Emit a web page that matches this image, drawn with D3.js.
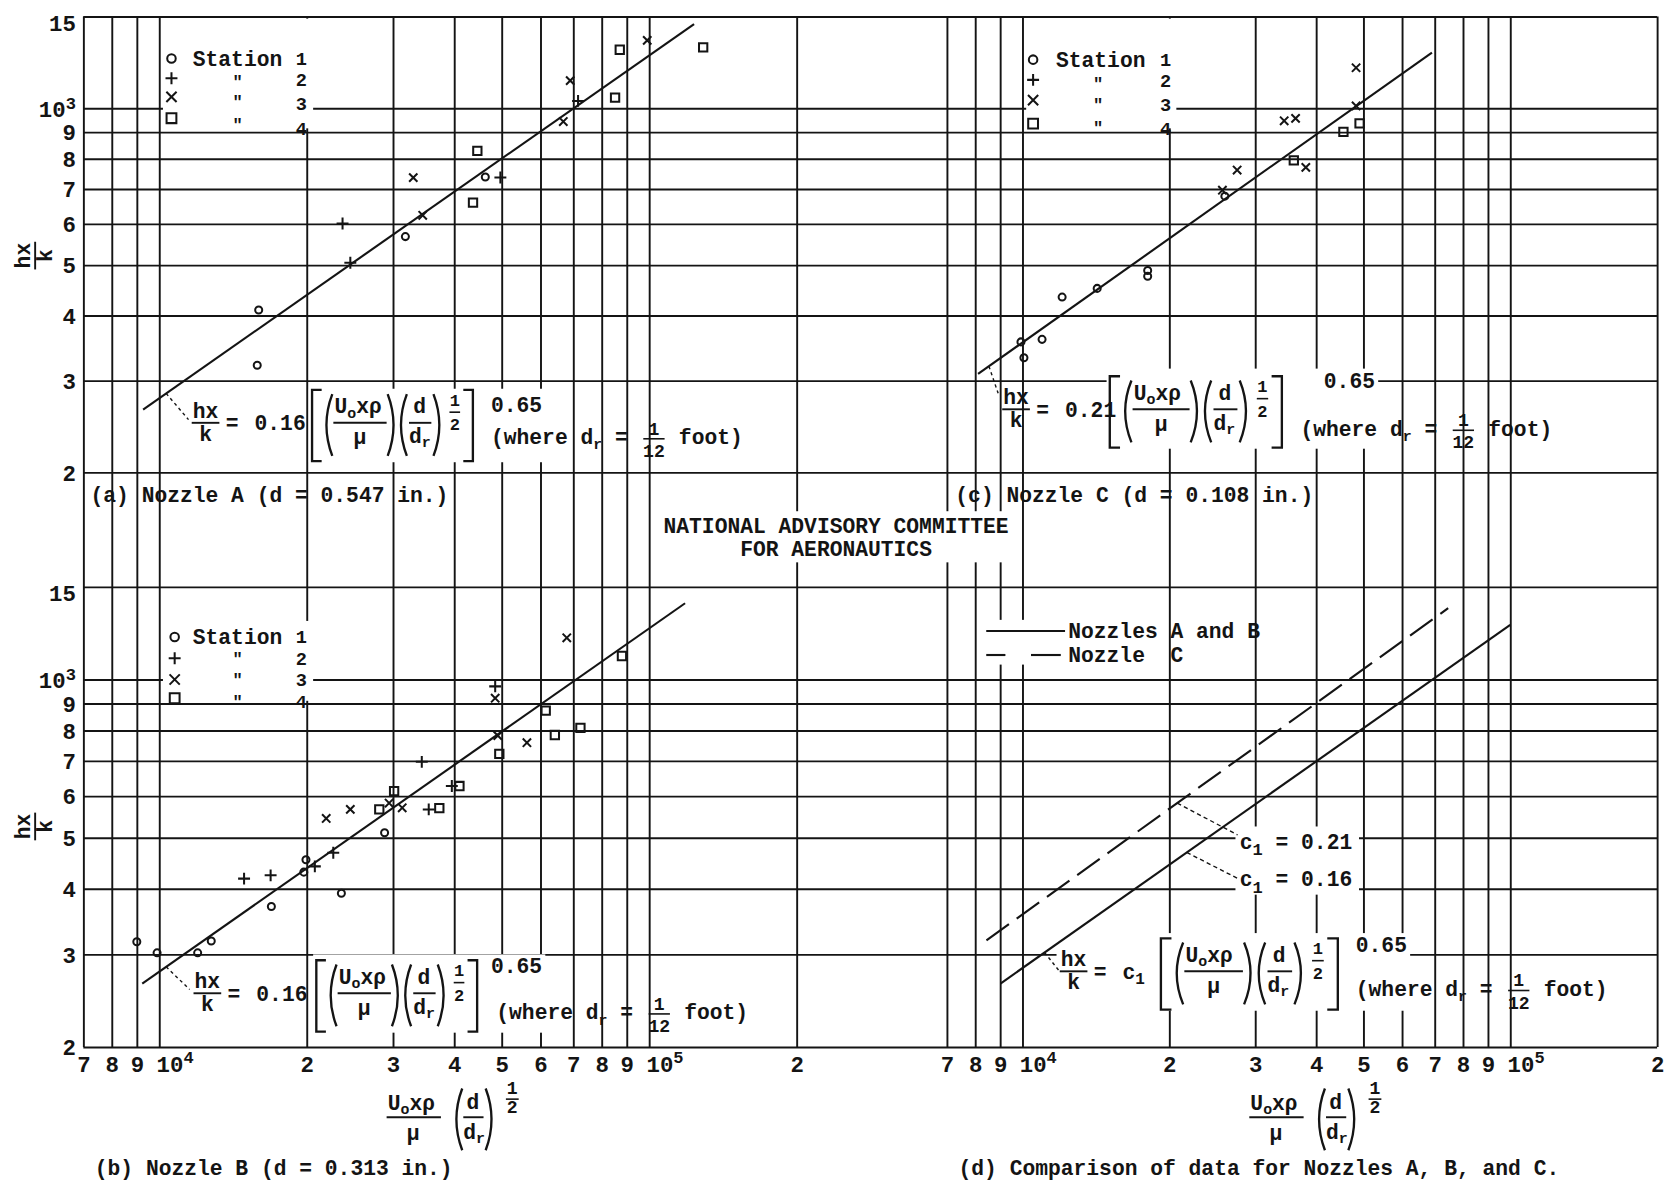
<!DOCTYPE html>
<html><head><meta charset="utf-8">
<script src="https://cdn.jsdelivr.net/npm/d3@7"></script>
<style>
html,body{margin:0;padding:0;background:#fff;}
svg{display:block;background:#fff;}
text{font-family:"Liberation Mono","DejaVu Sans Mono",monospace;font-weight:bold;fill:#141414;white-space:pre;}
</style></head><body>
<svg id="chart" width="1670" height="1188" viewBox="0 0 1670 1188"></svg>
<script>
// ---------------- tick values / labels ----------------
const xTickValues = [7000, 8000, 9000, 10000, 20000, 30000, 40000, 50000, 60000, 70000, 80000, 90000, 100000, 200000];
const xTickLabels = ['7','8','9','10^4','2','3','4','5','6','7','8','9','10^5','2'];
const yTickValues = [200, 300, 400, 500, 600, 700, 800, 900, 1000, 1500];
const yTickLabels = ['2','3','4','5','6','7','8','9','10^3','15'];

// ---------------- (a) Nozzle A ----------------
const nozzleA_station1 = [[15960,410],[15850,321],[31800,567],[46300,738]];
const nozzleA_station2 = [[23670,601],[24550,505],[49700,736],[71600,1033]];
const nozzleA_station3 = [[33000,736],[34500,623],[66800,943],[69000,1130],[99100,1350]];
const nozzleA_station4 = [[43700,659],[44600,828],[85200,1048],[87100,1295],[128900,1309]];
const nozzleA_fit = [[9270,264],[123500,1451]];

// ---------------- (b) Nozzle B ----------------
const nozzleB_station1 = [[9000,317],[9900,302],[11980,302],[12770,318],[16940,370],[19730,430],[19930,454],[23540,392],[28840,511]];
const nozzleB_station2 = [[14900,418],[16880,424],[20780,441],[22660,468],[34350,697],[35490,566],[39560,627],[48500,970]];
const nozzleB_station3 = [[21920,544],[24550,566],[29460,582],[31330,570],[48500,921],[49100,782],[56300,758],[67900,1200]];
const nozzleB_station4 = [[28130,566],[30160,613],[37300,569],[41000,627],[49450,722],[61500,872],[64200,784],[72400,809],[88000,1108]];
const nozzleB_fit = [[9233,264],[118400,1396]];

// ---------------- (c) Nozzle C ----------------
const nozzleC_station1 = [[9930,356],[10070,332],[10970,360],[12060,434],[14230,451],[18060,488],[18060,476],[26000,678]];
const nozzleC_station2 = [];
const nozzleC_station3 = [[25700,696],[27550,761],[34400,946],[36300,956],[38100,770],[48300,1010],[48300,1196]];
const nozzleC_station4 = [[36000,794],[45500,901],[49100,935]];
const nozzleC_fit = [[8110,309],[69100,1279]];

// ---------------- (d) comparison ----------------
const comparisonAB = [[9016,264],[100000,1270]];   // c1 = 0.16
const comparisonC  = [[8437,319],[74600,1366]];    // c1 = 0.21

const legendNumbers = ['1','2','3','4'];
const captions = ['(a) Nozzle A (d = 0.547 in.)','(b) Nozzle B (d = 0.313 in.)','(c) Nozzle C (d = 0.108 in.)','(d) Comparison of data for Nozzles A, B, and C.'];

// ---------------- setup ----------------
const INK = '#141414';
const FONT = '"Liberation Mono","DejaVu Sans Mono",monospace';
const K = 1670/1568;
const svg = d3.select('#chart');
svg.append('rect').attr('width',1670).attr('height',1188).attr('fill','#fff');
const root = svg.append('g').attr('transform',`scale(${K})`);

const xL = d3.scaleLog().domain([1e4,1e5]).range([149.5,609.5]);
const xR = d3.scaleLog().domain([1e4,1e5]).range([960,1418]);
const yT = d3.scaleLog().domain([200,1500]).range([443.5,15.5]);
const yB = d3.scaleLog().domain([200,1500]).range([983,551]);
const X0 = xL(7000), X1 = xR(200000), Y0 = yT(1500), Y1 = yB(200);

function T(g,x,y,s,o={}){const t=g.append('text').attr('x',x).attr('y',y).attr('font-size',o.size||20).text(s); if(o.anchor) t.attr('text-anchor',o.anchor); return t;}
function L(g,x1,y1,x2,y2,w=1.8,dash=null){const l=g.append('line').attr('x1',x1).attr('y1',y1).attr('x2',x2).attr('y2',y2).attr('stroke',INK).attr('stroke-width',w); if(dash) l.attr('stroke-dasharray',dash); return l;}
function P(g,d,w=1.8){return g.append('path').attr('d',d).attr('fill','none').attr('stroke',INK).attr('stroke-width',w);}
function R(g,x,y,w,h){return g.append('rect').attr('x',x).attr('y',y).attr('width',w).attr('height',h).attr('fill','#fff');}
function sup(t,base,exp,dy,size){t.text(base); t.append('tspan').attr('dy',dy).attr('font-size',size).text(exp);}
function onLine(line,x){const [[x0,y0],[x1,y1]]=line; const t=Math.log(x/x0)/Math.log(x1/x0); return Math.exp(Math.log(y0)+t*Math.log(y1/y0));}

// ---------------- axes / grid ----------------
function xAxis(scale){
  const g=root.append('g').attr('transform',`translate(0,${Y1})`)
    .call(d3.axisBottom(scale).tickValues(xTickValues).tickSize(-(Y1-Y0)).tickSizeOuter(0).tickFormat((d,i)=>xTickLabels[i]));
  g.attr('font-family',FONT).attr('font-size',21);
  g.select('.domain').remove();
  g.selectAll('.tick line').attr('stroke',INK).attr('stroke-width',1.8);
  g.selectAll('.tick text').attr('fill',INK).attr('y',24).attr('dy',null).each(function(){
    const t=d3.select(this), s=t.text();
    if(s.includes('^')){const [a,b]=s.split('^'); t.attr('text-anchor','start').attr('x',-3); sup(t,a,b,-9,16);}
  });
}
function yAxis(scale){
  const g=root.append('g').attr('transform',`translate(${X0},0)`)
    .call(d3.axisLeft(scale).tickValues(yTickValues).tickSize(-(X1-X0)).tickSizeOuter(0).tickFormat((d,i)=>yTickLabels[i]));
  g.attr('font-family',FONT).attr('font-size',21);
  g.select('.domain').remove();
  g.selectAll('.tick line').attr('stroke',INK).attr('stroke-width',1.8);
  g.selectAll('.tick text').attr('fill',INK).attr('x',-7).attr('dy',d=>d===1500?'0.62em':'0.35em').each(function(){
    const t=d3.select(this), s=t.text();
    if(s.includes('^')){const [a,b]=s.split('^'); sup(t,a,b,-7,16);}
  });
}
xAxis(xL); xAxis(xR); yAxis(yT); yAxis(yB);

// ---------------- masks (pasted labels) ----------------
const masks = root.append('g');
R(masks,153,17.5,141,103);      // legend a
R(masks,963.5,17.5,141,103);    // legend c
R(masks,153,583,141,75);        // legend b
R(masks,926,582,76,42);         // legend d samples
R(masks,617,480,338,48);        // NACA
R(masks,1160,776,116,64);       // c1 labels

// ---------------- equations ----------------
function whereText(g,x,y){
  const t=g.append('text').attr('x',x).attr('y',y).attr('font-size',20);
  t.append('tspan').text('(where d');
  t.append('tspan').attr('font-size',14).attr('dy',5).text('r');
  t.append('tspan').attr('dy',-5).text(' = ');
  t.append('tspan').attr('dx',24).text(' foot)');
  const cx=x+96+9+36;
  const f=g.append('text').attr('font-size',17).attr('text-anchor','middle');
  f.append('tspan').attr('x',cx+12).attr('y',y-9).text('1');
  f.append('tspan').attr('x',cx+12).attr('y',y+12).text('12');
  L(g,cx+2,y-5,cx+22,y-5,1.5);
}
function equation(p){
  const g=root.append('g');
  const mask=g.append('rect').attr('fill','#fff');
  const {ox,oy,bx}=p; const s=p.sx||1; const X=k=>bx+k*s;
  const left=g.append('g');
  T(left,ox,oy-5,'hx');
  L(left,ox-1,oy,ox+25,oy,1.8);
  T(left,ox+12,oy+17,'k',{anchor:'middle'});
  T(left,ox+37,oy+7,'=',{anchor:'middle'});
  if(p.coef==='c1'){const t=T(left,ox+58,oy+7,'c'); t.append('tspan').attr('dy',5).attr('font-size',15).text('1');}
  else T(left,ox+58,oy+7,p.coef);
  const br=g.append('g');
  P(br,`M${X(9)},${oy-31}H${X(0)}V${oy+36}H${X(9)}`,2.2);
  P(br,`M${X(19)},${oy-27}Q${X(8)},${oy+2} ${X(19)},${oy+31}`,2.2);
  const u=T(br,X(21),oy-9,'U'); u.append('tspan').attr('font-size',14).attr('dy',4).text('o'); u.append('tspan').attr('dy',-4).text('xρ');
  L(br,X(20),oy,X(70),oy,1.8);
  T(br,X(45),oy+20,'μ',{anchor:'middle'});
  P(br,`M${X(71)},${oy-27}Q${X(82)},${oy+2} ${X(71)},${oy+31}`,2.2);
  P(br,`M${X(89)},${oy-27}Q${X(78)},${oy+2} ${X(89)},${oy+31}`,2.2);
  const dd=br.append('text').attr('font-size',20).attr('text-anchor','middle');
  dd.append('tspan').attr('x',X(101)).attr('y',oy-9).text('d');
  L(br,X(91),oy,X(112),oy,1.8);
  const dr=T(br,X(91),oy+19,'d'); dr.append('tspan').attr('font-size',14).attr('dy',4).text('r');
  P(br,`M${X(114)},${oy-27}Q${X(125)},${oy+2} ${X(114)},${oy+31}`,2.2);
  const hf=br.append('text').attr('font-size',16).attr('text-anchor','middle');
  hf.append('tspan').attr('x',X(134)).attr('y',oy-16).text('1');
  hf.append('tspan').attr('x',X(134)).attr('y',oy+7).text('2');
  L(br,X(129),oy-10,X(139),oy-10,1.5);
  P(br,`M${X(142)},${oy-31}H${X(151)}V${oy+36}H${X(142)}`,2.2);
  const ex=g.append('g'); T(ex,p.expX,p.expY,'0.65');
  const wh=g.append('g'); whereText(wh,p.whereX,p.whereY);
  const boxes=[br.node().getBBox(),ex.node().getBBox()];
  if(p.maskLeft) boxes.push(left.node().getBBox());
  const mx0=d3.min(boxes,b=>b.x)-3, my0=d3.min(boxes,b=>b.y)-1, mx1=d3.max(boxes,b=>b.x+b.width)+3, my1=d3.max(boxes,b=>b.y+b.height)+1;
  mask.attr('x',mx0).attr('y',my0).attr('width',mx1-mx0).attr('height',my1-my0);
  L(root,p.leaderFrom[0],p.leaderFrom[1],p.leaderTo[0],p.leaderTo[1],1.3,'3,3');
}
equation({ox:181,oy:397,bx:293,coef:'0.16',expX:461,expY:387,whereX:461,whereY:417,
  leaderFrom:[xL(10330),yT(onLine(nozzleA_fit,10330))],leaderTo:[177,394]});
equation({ox:182.7,oy:932.6,bx:297,coef:'0.16',expX:461,expY:914,whereX:466,whereY:957,
  leaderFrom:[xL(10330),yB(onLine(nozzleB_fit,10330))],leaderTo:[178,929]});
equation({ox:942,oy:384.3,bx:1042,sx:1.07,coef:'0.21',expX:1243,expY:364,whereX:1221,whereY:409,
  leaderFrom:[xR(8536),yT(onLine(nozzleC_fit,8536))],leaderTo:[937.2,369.3]});
equation({ox:996,oy:912,bx:1090,sx:1.1,coef:'c1',expX:1273,expY:894,whereX:1273,whereY:935,maskLeft:true,
  leaderFrom:[xR(11100),yB(onLine(comparisonAB,11100))],leaderTo:[994,911]});

// ---------------- fit lines ----------------
const lines=root.append('g').attr('fill','none').attr('stroke',INK).attr('stroke-width',2);
const gen=(xs,ys)=>d3.line().x(d=>xs(d[0])).y(d=>ys(d[1]));
lines.append('path').datum(nozzleA_fit).attr('d',gen(xL,yT));
lines.append('path').datum(nozzleB_fit).attr('d',gen(xL,yB));
lines.append('path').datum(nozzleC_fit).attr('d',gen(xR,yT));
lines.append('path').datum(comparisonAB).attr('d',gen(xR,yB));
lines.append('path').datum(comparisonC).attr('d',gen(xR,yB)).attr('stroke-dasharray','26,9');

// leaders to c1 labels
L(root,xR(20770),yB(onLine(comparisonC,20770)),1162,784,1.3,'4,3');
L(root,xR(21720),yB(onLine(comparisonAB,21720)),1162,824.7,1.3,'4,3');

// ---------------- markers ----------------
function markerPath(type,s){
  switch(type){
    case 'circle': return `M${s},0A${s},${s} 0 1,1 ${-s},0A${s},${s} 0 1,1 ${s},0Z`;
    case 'plus': return `M${-s},0H${s}M0,${-s}V${s}`;
    case 'times': return `M${-s},${-s}L${s},${s}M${-s},${s}L${s},${-s}`;
    case 'square': return `M${-s},${-s}H${s}V${s}H${-s}Z`;
  }
}
const plotSize={circle:3.3,plus:5.6,times:3.9,square:3.9};
function marks(data,xs,ys,type){
  root.append('g').selectAll('path').data(data).join('path')
    .attr('transform',d=>`translate(${xs(d[0])},${ys(d[1])})`)
    .attr('d',markerPath(type,plotSize[type])).attr('fill','none').attr('stroke',INK).attr('stroke-width',1.9);
}
marks(nozzleA_station1,xL,yT,'circle'); marks(nozzleA_station2,xL,yT,'plus');
marks(nozzleA_station3,xL,yT,'times');  marks(nozzleA_station4,xL,yT,'square');
marks(nozzleB_station1,xL,yB,'circle'); marks(nozzleB_station2,xL,yB,'plus');
marks(nozzleB_station3,xL,yB,'times');  marks(nozzleB_station4,xL,yB,'square');
marks(nozzleC_station1,xR,yT,'circle'); marks(nozzleC_station2,xR,yT,'plus');
marks(nozzleC_station3,xR,yT,'times');  marks(nozzleC_station4,xR,yT,'square');

// ---------------- legends ----------------
const legSize={circle:4,plus:5.6,times:4.8,square:4.6};
function legend(o){
  const g=root.append('g');
  ['circle','plus','times','square'].forEach((type,i)=>{
    P(g,markerPath(type,legSize[type]),1.9).attr('transform',`translate(${o.symX},${o.rows[i]})`);
  });
  T(g,o.textX,o.rows[0]+7,'Station');
  legendNumbers.forEach((n,i)=>T(g,o.numX,o.numRows[i]+6.5,n,{anchor:'middle',size:17.5}));
  [0,1,2].forEach(i=>T(g,o.dittoX,o.dittoRows[i]+9,'"',{anchor:'middle',size:16}));
}
legend({symX:161,textX:181,numX:283,dittoX:223,rows:[55,73.5,91,111],numRows:[54.5,74.5,97,120],dittoRows:[72.5,91,113]});
legend({symX:970,textX:991.5,numX:1094.5,dittoX:1031,rows:[56,75,94,116],numRows:[55.5,75.5,97.5,120],dittoRows:[75,94,116]});
legend({symX:164,textX:181,numX:283,dittoX:223,rows:[598,618,638,655.6],numRows:[597.5,617.5,637.5,658],dittoRows:[614,634,655]});

// (d) legend
L(root,926,592.5,1000,592.5,2);
L(root,926,615,944,615,2); L(root,968,615,996,615,2);
T(root,1003,599.5,'Nozzles A and B');
T(root,1003,622,'Nozzle  C');
{const t=T(root,1164,797,'c'); t.append('tspan').attr('dy',6).attr('font-size',16).text('1'); t.append('tspan').attr('dy',-6).text(' = 0.21');}
{const t=T(root,1164,832,'c'); t.append('tspan').attr('dy',6).attr('font-size',16).text('1'); t.append('tspan').attr('dy',-6).text(' = 0.16');}

// ---------------- titles ----------------
function yTitle(cx,cy){
  const g=root.append('g').attr('transform',`translate(${cx},${cy}) rotate(-90)`);
  const t=g.append('text').attr('font-size',20).attr('text-anchor','middle');
  t.append('tspan').attr('x',0).attr('y',-5).text('hx');
  t.append('tspan').attr('x',0).attr('y',16).text('k');
  L(g,-13,0,13,0,1.8);
}
yTitle(33,240); yTitle(33,776);
function xTitle(tx,by){
  const g=root.append('g');
  const u=T(g,tx,by-7,'U'); u.append('tspan').attr('font-size',14).attr('dy',4).text('o'); u.append('tspan').attr('dy',-4).text('xρ');
  L(g,tx-1,by,tx+50,by,1.8);
  T(g,tx+24,by+21,'μ',{anchor:'middle'});
  P(g,`M${tx+70},${by-27}Q${tx+59},${by+2} ${tx+70},${by+31}`,2.2);
  const dd=g.append('text').attr('font-size',20).attr('text-anchor','middle');
  dd.append('tspan').attr('x',tx+80).attr('y',by-8).text('d');
  L(g,tx+71,by,tx+90,by,1.8);
  const dr=T(g,tx+71,by+20,'d'); dr.append('tspan').attr('font-size',14).attr('dy',4).text('r');
  P(g,`M${tx+92},${by-27}Q${tx+103},${by+2} ${tx+92},${by+31}`,2.2);
  const hf=g.append('text').attr('font-size',17).attr('text-anchor','middle');
  hf.append('tspan').attr('x',tx+117).attr('y',by-22).text('1');
  hf.append('tspan').attr('x',tx+117).attr('y',by-4).text('2');
  L(g,tx+111,by-17,tx+123,by-17,1.5);
}
xTitle(364,1049); xTitle(1174,1049);

T(root,85,471,captions[0]);
T(root,89,1103,captions[1]);
T(root,897,471,captions[2]);
T(root,900,1103,captions[3]);

{const t=root.append('text').attr('font-size',20).attr('text-anchor','middle');
 t.append('tspan').attr('x',785).attr('y',500).text('NATIONAL ADVISORY COMMITTEE');
 t.append('tspan').attr('x',785).attr('y',522).text('FOR AERONAUTICS');}
</script>
</body></html>
